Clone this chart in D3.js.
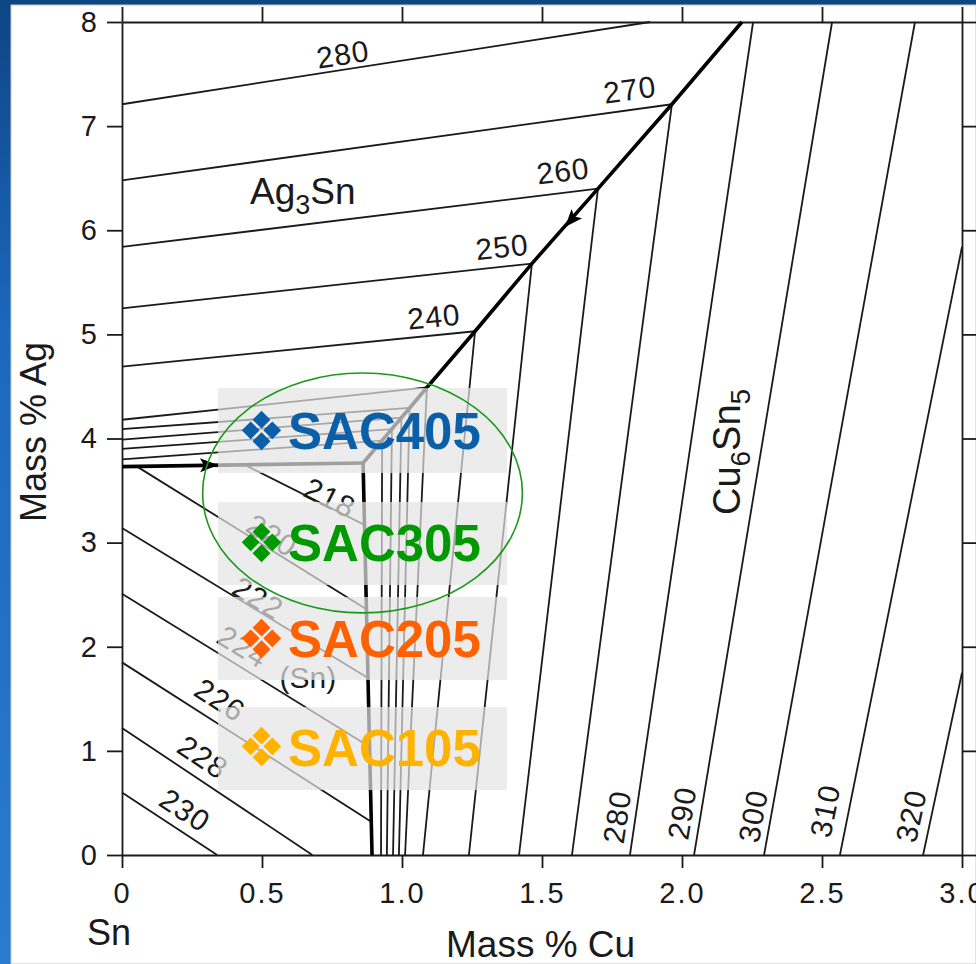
<!DOCTYPE html>
<html><head><meta charset="utf-8">
<script src="https://cdn.jsdelivr.net/npm/d3@7"></script>
<style>html,body{margin:0;padding:0;background:#fff;overflow:hidden}</style>
</head><body><svg id="c" width="976" height="964"></svg>
<script>
// ---------------- DATA ----------------
const xTicks = [0, 0.5, 1.0, 1.5, 2.0, 2.5, 3.0];
const xTickLabels = ["0", "0.5", "1.0", "1.5", "2.0", "2.5", "3.0"];
const yTicks = [0, 1, 2, 3, 4, 5, 6, 7, 8];

// Ag3Sn / Cu6Sn5 eutectic valley (Cu, Ag) from top edge down to ternary eutectic
const valleyCu = [2.214, 1.964, 1.700, 1.464, 1.261, 1.089, 0.861];
const valleyAg = [8.00, 7.21, 6.40, 5.68, 5.03, 4.49, 3.765];
// Sn / Ag3Sn valley
const snAgValleyCu = [0, 0.861];
const snAgValleyAg = [3.73, 3.765];
// Sn / Cu6Sn5 valley
const snCuValleyCu = [0.861, 0.893];
const snCuValleyAg = [3.765, 0];

// Ag3Sn primary-field isotherms (start on Cu = 0 axis, end on valley / top)
const ag3snStartAg = [7.21, 6.48, 5.84, 5.25, 4.69, 4.18, 4.09, 3.99, 3.90, 3.80];
const ag3snEndCu   = [1.886, 1.964, 1.700, 1.464, 1.261, 1.089, 1.027, 0.998, 0.964, 0.929];
const ag3snEndAg   = [8.00, 7.21, 6.40, 5.68, 5.03, 4.49, 4.294, 4.20, 4.091, 3.98];
const ag3snLabels  = ["280", "270", "260", "250", "240"];
const ag3snLabelCu = [0.789, 1.814, 1.575, 1.357, 1.114];
const ag3snLabelAg = [7.69, 7.35, 6.57, 5.84, 5.17];

// Cu6Sn5 primary-field isotherms (upper end -> point on Ag = 0 axis)
const cu6TopCu    = [3.0, 3.0, 2.832, 2.536, 2.254, 1.964, 1.700, 1.464, 1.261, 1.089, 1.027, 0.998, 0.964, 0.929];
const cu6TopAg    = [1.75, 5.84, 8.0, 8.0, 8.0, 7.21, 6.40, 5.68, 5.03, 4.49, 4.294, 4.20, 4.091, 3.98];
const cu6BottomCu = [2.861, 2.564, 2.293, 2.043, 1.814, 1.607, 1.418, 1.239, 1.075, 1.011, 0.989, 0.968, 0.946, 0.925];
const cu6Labels   = ["280", "290", "300", "310", "320"];
const cu6LabelCu  = [1.768, 2.000, 2.254, 2.511, 2.818];
const cu6LabelAg  = [0.365, 0.403, 0.375, 0.423, 0.375];

// (Sn) primary-field isotherms
const snStartCu = [0.446, 0.054, 0, 0, 0, 0, 0];
const snStartAg = [3.736, 3.73, 3.14, 2.51, 1.85, 1.22, 0.60];
const snEndCu   = [0.866, 0.873, 0.879, 0.884, 0.890, 0.68, 0.34];
const snEndAg   = [3.17, 2.36, 1.70, 1.04, 0.32, 0, 0];
const snLabels  = ["218", "220", "222", "224", "226", "228", "230"];
const snLabelCu = [0.743, 0.536, 0.486, 0.432, 0.350, 0.289, 0.225];
const snLabelAg = [3.43, 3.07, 2.47, 2.00, 1.49, 0.94, 0.43];

// flow arrows on the valleys (tip Cu, Ag)
const arrowCu = [1.582, 0.343];
const arrowAg = [6.031, 3.746];

// alloy annotation boxes
const alloys = ["SAC405", "SAC305", "SAC205", "SAC105"];
const alloyColors = ["#0b5ea8", "#009a00", "#ff6000", "#ffb300"];
const alloyBoxTopAg = [4.485, 3.39, 2.478, 1.421];
const alloyBoxBotAg = [3.669, 2.593, 1.681, 0.624];
const alloyBaseAg   = [3.899, 2.823, 1.901, 0.855];

// ---------------- DRAW ----------------
const W = 976, H = 964;
const svg = d3.select("#c");
const x = d3.scaleLinear().domain([0, 3]).range([122, 962]);
const y = d3.scaleLinear().domain([0, 8]).range([855, 22]);
const FONT = "'Liberation Sans', Arial, Helvetica, sans-serif";
const INK = "#1a1a1a";

const defs = svg.append("defs");
const g1 = defs.append("linearGradient").attr("id", "bg").attr("x1", 0).attr("y1", 0).attr("x2", 0).attr("y2", 1);
g1.append("stop").attr("offset", "0%").attr("stop-color", "#0e4585");
g1.append("stop").attr("offset", "35%").attr("stop-color", "#1c68bd");
g1.append("stop").attr("offset", "100%").attr("stop-color", "#2a7bd0");

svg.append("rect").attr("width", W).attr("height", H).attr("fill", "url(#bg)");
svg.append("rect").attr("x", 11).attr("y", 5).attr("width", W - 11).attr("height", H - 5)
  .attr("fill", "#fff").attr("stroke", "#c8c8c8").attr("stroke-width", 1);

const line = d3.line().x(d => x(d[0])).y(d => y(d[1]));

// axes
function styleAxis(g) {
  g.selectAll("path.domain").attr("stroke", INK).attr("stroke-width", 1.8);
  g.selectAll(".tick line").attr("stroke", INK).attr("stroke-width", 1.8);
  g.selectAll(".tick text").attr("fill", INK).style("font-family", FONT)
    .style("font-size", "29px").style("letter-spacing", "2px");
}
svg.append("g").attr("transform", `translate(0,${y(0)})`)
  .call(d3.axisBottom(x).tickValues(xTicks).tickFormat((d, i) => xTickLabels[i])
    .tickSize(13).tickPadding(14).tickSizeOuter(0)).call(styleAxis);
svg.append("g").attr("transform", `translate(0,${y(8)})`)
  .call(d3.axisTop(x).tickValues(xTicks).tickFormat("").tickSize(15).tickSizeOuter(0)).call(styleAxis);
svg.append("g").attr("transform", `translate(${x(0)},0)`)
  .call(d3.axisLeft(y).tickValues(yTicks).tickFormat(d3.format("d")).tickSize(15).tickPadding(8).tickSizeOuter(0)).call(styleAxis);
svg.append("g").attr("transform", `translate(${x(3)},0)`)
  .call(d3.axisRight(y).tickValues(yTicks).tickFormat("").tickSize(15).tickSizeOuter(0)).call(styleAxis);

// isotherms
const thin = svg.append("g").attr("fill", "none").attr("stroke", INK).attr("stroke-width", 1.8);
ag3snStartAg.forEach((a, i) => thin.append("path").attr("d", line([[0, a], [ag3snEndCu[i], ag3snEndAg[i]]])));
cu6TopCu.forEach((c, i) => thin.append("path").attr("d", line([[c, cu6TopAg[i]], [cu6BottomCu[i], 0]])));
snStartCu.forEach((c, i) => thin.append("path").attr("d", line([[c, snStartAg[i]], [snEndCu[i], snEndAg[i]]])));

// valleys
const bold = svg.append("g").attr("fill", "none").attr("stroke", "#000").attr("stroke-width", 3.6).attr("stroke-linejoin", "round");
bold.append("path").attr("d", line(valleyCu.map((c, i) => [c, valleyAg[i]])));
bold.append("path").attr("d", line(snAgValleyCu.map((c, i) => [c, snAgValleyAg[i]])));
bold.append("path").attr("d", line(snCuValleyCu.map((c, i) => [c, snCuValleyAg[i]])));

// arrows
const arrowDir = [
  Math.atan2(y(valleyAg[3]) - y(valleyAg[2]), x(valleyCu[3]) - x(valleyCu[2])),
  Math.atan2(y(snAgValleyAg[1]) - y(snAgValleyAg[0]), x(snAgValleyCu[1]) - x(snAgValleyCu[0]))
];
arrowCu.forEach((c, i) => {
  svg.append("path").attr("d", "M0,0 L-18,-7 L-14,0 L-18,7 Z").attr("fill", "#000")
    .attr("transform", `translate(${x(c)},${y(arrowAg[i])}) rotate(${arrowDir[i] * 180 / Math.PI})`);
});

// isotherm labels
function label(txt, cx, cy, rot, size) {
  svg.append("text").attr("transform", `translate(${cx},${cy}) rotate(${rot})`)
    .attr("text-anchor", "middle").attr("dominant-baseline", "central")
    .style("font-family", FONT).style("font-size", size + "px").style("letter-spacing", "1px")
    .attr("fill", INK).text(txt);
}
ag3snLabels.forEach((t, i) => {
  const ang = Math.atan2(y(ag3snEndAg[i]) - y(ag3snStartAg[i]), x(ag3snEndCu[i]) - x(0)) * 180 / Math.PI;
  label(t, x(ag3snLabelCu[i]), y(ag3snLabelAg[i]), ang, 30);
});
cu6Labels.forEach((t, i) => {
  const j = 4 - i; // 280 -> index 4 ... 320 -> index 0
  const ang = Math.atan2(y(cu6TopAg[j]) - y(0), x(cu6TopCu[j]) - x(cu6BottomCu[j])) * 180 / Math.PI;
  label(t, x(cu6LabelCu[i]), y(cu6LabelAg[i]), ang, 30);
});
snLabels.forEach((t, i) => {
  const ang = Math.atan2(y(snEndAg[i]) - y(snStartAg[i]), x(snEndCu[i]) - x(snStartCu[i])) * 180 / Math.PI;
  label(t, x(snLabelCu[i]), y(snLabelAg[i]), ang, 30);
});

// phase labels
const ag3 = svg.append("text").attr("x", x(0.457)).attr("y", y(6.252))
  .style("font-family", FONT).style("font-size", "37px").attr("fill", INK);
ag3.append("tspan").text("Ag");
ag3.append("tspan").attr("dy", 10).style("font-size", "27px").text("3");
ag3.append("tspan").attr("dy", -10).text("Sn");

const cu6 = svg.append("text").attr("transform", `translate(${x(2.207)},${y(3.265)}) rotate(-90)`)
  .style("font-family", FONT).style("font-size", "38px").attr("fill", INK);
cu6.append("tspan").text("Cu");
cu6.append("tspan").attr("dy", 10).style("font-size", "28px").text("6");
cu6.append("tspan").attr("dy", -10).text("Sn");
cu6.append("tspan").attr("dy", 10).style("font-size", "28px").text("5");

svg.append("text").attr("x", x(0.664)).attr("y", y(1.70)).attr("text-anchor", "middle")
  .attr("dominant-baseline", "central").style("font-family", FONT).style("font-size", "30px")
  .attr("fill", INK).text("(Sn)");

// axis titles
svg.append("text").attr("x", 87).attr("y", 945).style("font-family", FONT).style("font-size", "36px")
  .attr("fill", INK).text("Sn");
svg.append("text").attr("x", 446).attr("y", 957).style("font-family", FONT).style("font-size", "37px")
  .attr("fill", INK).text("Mass % Cu");
svg.append("text").attr("transform", "translate(46,432) rotate(-90)").attr("text-anchor", "middle")
  .style("font-family", FONT).style("font-size", "36px").attr("fill", INK).text("Mass % Ag");

// alloy overlay boxes
alloys.forEach((a, i) => {
  svg.append("rect").attr("x", x(0.343)).attr("y", y(alloyBoxTopAg[i]))
    .attr("width", x(1.375) - x(0.343)).attr("height", y(alloyBoxBotAg[i]) - y(alloyBoxTopAg[i]))
    .attr("fill", "#e4e4e4").attr("fill-opacity", 0.7);
});

// ellipse around SAC405 / SAC305
svg.append("ellipse").attr("cx", x(0.859)).attr("cy", y(3.477))
  .attr("rx", x(0.571) - x(0)).attr("ry", y(0) - y(1.152))
  .attr("fill", "none").attr("stroke", "#1a9a1a").attr("stroke-width", 1.6);

alloys.forEach((a, i) => {
  const by = y(alloyBaseAg[i]);
  svg.append("text").attr("x", x(0.498)).attr("y", by - 18).attr("text-anchor", "middle")
    .attr("dominant-baseline", "central")
    .style("font-family", "'DejaVu Sans', sans-serif").style("font-size", "54px")
    .attr("fill", alloyColors[i]).text("\u2756");
  svg.append("text").attr("x", x(0.593)).attr("y", by)
    .style("font-family", FONT).style("font-size", "51px").style("font-weight", "bold")
    .attr("fill", alloyColors[i]).text(a);
});
</script></body></html>
